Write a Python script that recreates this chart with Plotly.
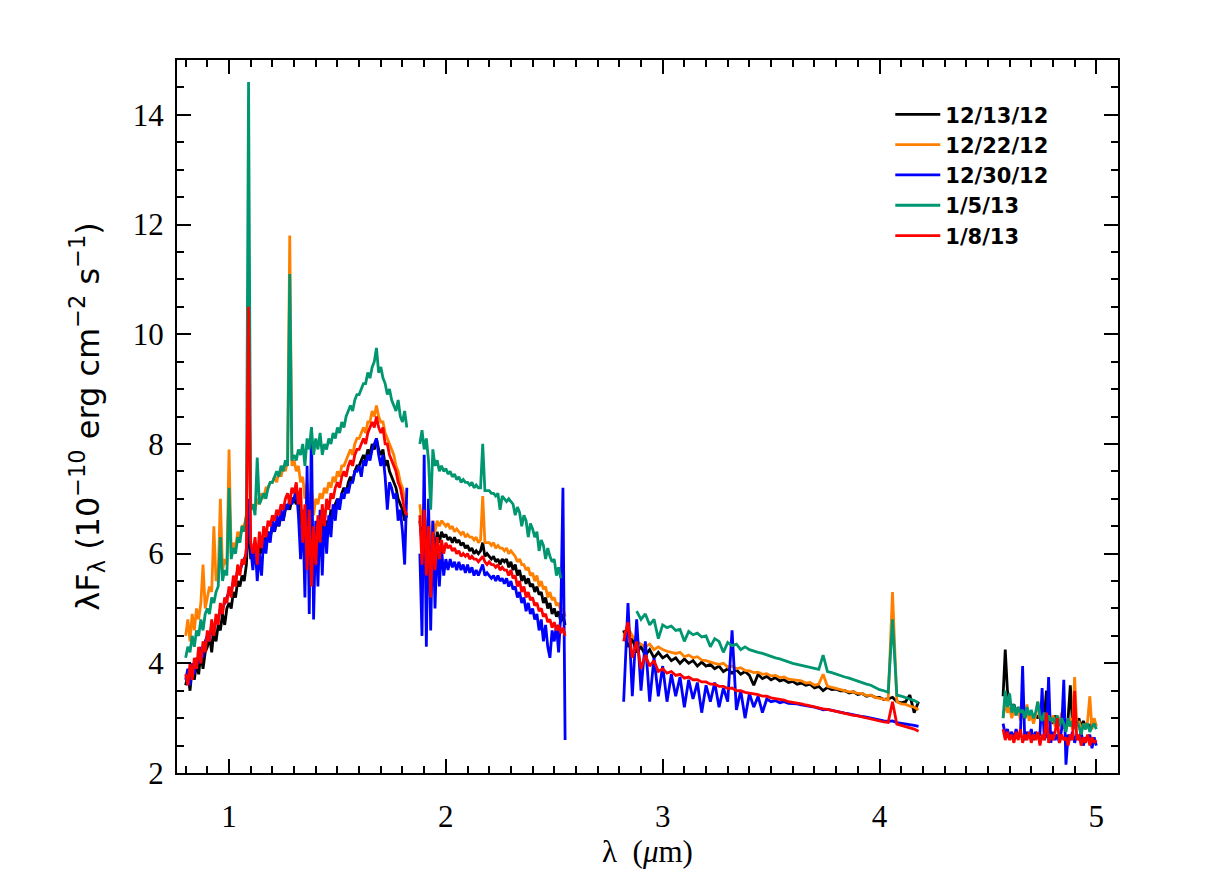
import plotly.graph_objects as go

# ---------------- wavelength grids (micron) for the four spectral segments ----------------
lam1 = [0.80, 0.81, 0.82, 0.83, 0.84, 0.85, 0.86, 0.87, 0.88, 0.89,
        0.90, 0.91, 0.92, 0.93, 0.94, 0.95, 0.96, 0.97, 0.98, 0.99,
        1.00, 1.01, 1.02, 1.03, 1.04, 1.05, 1.06, 1.07, 1.08, 1.09,
        1.10, 1.11, 1.12, 1.13, 1.14, 1.15, 1.16, 1.17, 1.18, 1.19,
        1.20, 1.21, 1.22, 1.23, 1.24, 1.25, 1.26, 1.27, 1.28, 1.29,
        1.30, 1.31, 1.32, 1.33, 1.34, 1.35, 1.36, 1.37, 1.38, 1.39,
        1.40, 1.41, 1.42, 1.43, 1.44, 1.45, 1.46, 1.47, 1.48, 1.49,
        1.50, 1.51, 1.52, 1.53, 1.54, 1.55, 1.56, 1.57, 1.58, 1.59,
        1.60, 1.61, 1.62, 1.63, 1.64, 1.65, 1.66, 1.67, 1.68, 1.69,
        1.70, 1.71, 1.72, 1.73, 1.74, 1.75, 1.76, 1.77, 1.78, 1.79,
        1.80, 1.81, 1.82]
lam2 = [1.88, 1.89,
        1.90, 1.91, 1.92, 1.93, 1.94, 1.95, 1.96, 1.97, 1.98, 1.99,
        2.00, 2.01, 2.02, 2.03, 2.04, 2.05, 2.06, 2.07, 2.08, 2.09,
        2.10, 2.11, 2.12, 2.13, 2.14, 2.15, 2.16, 2.17, 2.18, 2.19,
        2.20, 2.21, 2.22, 2.23, 2.24, 2.25, 2.26, 2.27, 2.28, 2.29,
        2.30, 2.31, 2.32, 2.33, 2.34, 2.35, 2.36, 2.37, 2.38, 2.39,
        2.40, 2.41, 2.42, 2.43, 2.44, 2.45, 2.46, 2.47, 2.48, 2.49,
        2.50, 2.51, 2.52, 2.53, 2.54, 2.55]
lam3 = [2.82, 2.84, 2.86, 2.88, 2.90, 2.92, 2.94, 2.96, 2.98,
        3.00, 3.02, 3.04, 3.06, 3.08, 3.10, 3.12, 3.14, 3.16, 3.18,
        3.20, 3.22, 3.24, 3.26, 3.28, 3.30, 3.32, 3.34, 3.36, 3.38,
        3.40, 3.42, 3.44, 3.46, 3.48, 3.50, 3.52, 3.54, 3.56, 3.58,
        3.60, 3.62, 3.64, 3.66, 3.68, 3.70, 3.72, 3.74, 3.76, 3.78,
        3.80, 3.82, 3.84, 3.86, 3.88, 3.90, 3.92, 3.94, 3.96, 3.98,
        4.00, 4.02, 4.04, 4.06, 4.08, 4.10, 4.12, 4.14, 4.16, 4.18]
lam4 = [4.57, 4.58, 4.59,
        4.60, 4.61, 4.62, 4.63, 4.64, 4.65, 4.66, 4.67, 4.68, 4.69,
        4.70, 4.71, 4.72, 4.73, 4.74, 4.75, 4.76, 4.77, 4.78, 4.79,
        4.80, 4.81, 4.82, 4.83, 4.84, 4.85, 4.86, 4.87, 4.88, 4.89,
        4.90, 4.91, 4.92, 4.93, 4.94, 4.95, 4.96, 4.97, 4.98, 4.99,
        5.00]

# ---------------- 12/13/12 (black) ----------------
f1213_s1 = [3.6, 3.8, 3.5, 3.9, 3.7, 4.0, 3.8, 4.2, 3.9, 4.2,
            4.3, 4.5, 4.2, 4.6, 4.4, 4.7, 4.6, 4.9, 4.7, 5.0,
            5.1, 5.0, 5.3, 5.2, 5.5, 5.4, 5.6, 5.5, 5.8, 6.6,
            5.9, 6.1, 5.9, 5.8, 6.2, 6.0, 6.3, 6.2, 6.4, 6.3,
            6.5, 6.4, 6.6, 6.5, 6.7, 6.6, 6.8, 6.9, 6.8, 7.0,
            7.0, 6.9, 7.1, 6.7, 6.3, 6.6, 5.9, 6.4, 5.6, 6.2,
            5.9, 6.4, 6.1, 6.6, 6.3, 6.6, 6.5, 6.8, 6.7, 6.9,
            7.0, 6.9, 7.1, 7.2, 7.1, 7.3, 7.4, 7.3, 7.5, 7.6,
            7.6, 7.7, 7.8, 7.7, 7.9, 7.8, 8.0, 7.9, 8.1, 7.9,
            7.8, 7.9, 7.6, 7.7, 7.5, 7.4, 7.3, 7.2, 7.0, 6.9,
            6.8, 6.6, 6.7]
f1213_s2 = [6.6, 6.2,
            6.7, 5.9, 6.5, 5.6, 6.4, 6.0, 6.4, 6.2, 6.4, 6.3,
            6.35, 6.25, 6.3, 6.2, 6.3, 6.2, 6.25, 6.15, 6.2, 6.1,
            6.15, 6.05, 6.1, 6.0, 6.05, 6.0, 6.05, 6.2, 5.95, 6.0,
            5.95, 5.9, 5.95, 5.85, 5.9, 5.8, 5.9, 5.85, 5.9, 5.75,
            5.85, 5.7, 5.8, 5.6, 5.7, 5.5, 5.6, 5.45, 5.55, 5.4,
            5.45, 5.3, 5.4, 5.25, 5.3, 5.1, 5.2, 5.0, 5.1, 4.9,
            5.0, 4.85, 4.95, 4.75, 4.9, 4.7]
f1213_s3 = [4.6, 4.3, 4.45, 4.2, 4.3, 4.15, 4.25, 4.1, 4.2,
            4.1, 4.15, 4.05, 4.1, 4.0, 4.08, 4.0, 4.05, 3.95, 4.02,
            3.95, 3.98, 3.9, 3.95, 3.85, 3.9, 3.82, 3.88, 3.8, 3.85,
            3.78, 3.6, 3.8, 3.72, 3.76, 3.7, 3.74, 3.68, 3.7, 3.65,
            3.67, 3.62, 3.64, 3.6, 3.62, 3.55, 3.58, 3.5, 3.56, 3.52,
            3.53, 3.5, 3.5, 3.46, 3.48, 3.43, 3.45, 3.4, 3.42, 3.38,
            3.38, 3.34, 3.35, 3.38, 3.3, 3.28, 3.3, 3.42, 3.1, 3.3]
f1213_s4 = [3.4, 4.25, 3.5,
            3.3, 3.2, 3.25, 3.1, 3.2, 3.05, 3.15, 3.0, 3.1, 3.05,
            3.1, 2.95, 3.05, 3.0, 3.1, 2.9, 3.0, 3.5, 2.95, 3.0,
            2.9, 3.05, 2.85, 3.0, 2.9, 2.95, 2.8, 3.0, 3.6, 2.9,
            2.95, 2.85, 3.0, 2.8, 2.95, 2.85, 2.9, 2.8, 2.95, 2.85,
            2.9]

# ---------------- 12/22/12 (orange) ----------------
f1222_s1 = [4.5, 4.8, 4.4, 4.9, 4.6, 5.0, 4.8, 5.1, 5.8, 5.0,
            5.2, 5.4, 5.3, 6.5, 5.5, 5.6, 7.0, 5.7, 5.9, 5.8,
            7.9, 6.0, 6.2, 6.1, 6.4, 6.3, 6.5, 6.5, 6.7, 9.8,
            6.8, 6.9, 6.8, 7.0, 6.9, 7.1, 7.0, 7.2, 7.2, 7.3,
            7.3, 7.4, 7.3, 7.5, 7.4, 7.6, 7.5, 7.7, 11.8, 7.6,
            7.7, 7.5, 7.6, 7.3, 7.4, 7.0, 7.3, 6.8, 7.2, 6.7,
            7.0, 6.9, 7.1, 7.0, 7.2, 7.1, 7.3, 7.2, 7.4, 7.3,
            7.5, 7.4, 7.6, 7.6, 7.7, 7.8, 7.9, 7.8, 8.0, 8.1,
            8.1, 8.2, 8.3, 8.2, 8.4, 8.4, 8.6, 8.5, 8.7, 8.5,
            8.4, 8.4, 8.2, 8.1, 8.0, 7.9, 7.8, 7.6, 7.5, 7.3,
            7.2, 7.0, 6.9]
f1222_s2 = [6.9, 6.5,
            6.8, 6.3, 6.7, 5.9, 6.6, 6.4, 6.6, 6.5, 6.6, 6.55,
            6.5, 6.55, 6.45, 6.5, 6.4, 6.45, 6.4, 6.35, 6.4, 6.3,
            6.35, 6.3, 6.3, 6.25, 6.3, 6.2, 6.25, 7.05, 6.2, 6.2,
            6.2, 6.15, 6.2, 6.1, 6.15, 6.1, 6.1, 6.05, 6.1, 6.0,
            6.05, 6.0, 5.95, 5.85, 5.9, 5.8, 5.8, 5.7, 5.75, 5.6,
            5.65, 5.5, 5.6, 5.4, 5.5, 5.35, 5.4, 5.2, 5.3, 5.15,
            5.2, 5.05, 5.1, 4.95, 5.0, 4.85]
f1222_s3 = [4.5, 4.65, 4.5, 4.4, 4.35, 4.3, 4.35, 4.25, 4.3,
            4.25, 4.22, 4.2, 4.18, 4.2, 4.12, 4.15, 4.1, 4.12, 4.06,
            4.05, 4.02, 4.0, 3.98, 4.0, 3.93, 3.95, 3.9, 3.92, 3.87,
            3.86, 3.83, 3.84, 3.8, 3.81, 3.77, 3.78, 3.74, 3.75, 3.71,
            3.7, 3.68, 3.68, 3.64, 3.65, 3.6, 3.62, 3.8, 3.58, 3.56,
            3.54, 3.52, 3.51, 3.48, 3.48, 3.45, 3.45, 3.41, 3.42, 3.38,
            3.36, 3.34, 3.33, 5.3, 3.3, 3.26, 3.25, 3.22, 3.2, 3.15]
f1222_s4 = [3.0, 3.3, 3.1,
            3.2, 3.0, 3.15, 3.05, 3.2, 2.95, 3.1, 3.0, 3.25, 2.95,
            3.1, 2.9, 3.05, 3.3, 3.0, 2.9, 3.1, 2.85, 3.0, 2.9,
            3.05, 2.85, 3.0, 2.9, 3.1, 2.8, 2.95, 2.85, 3.0, 2.8,
            3.75, 2.85, 2.95, 2.75, 2.9, 2.8, 2.95, 3.4, 2.8, 3.0,
            2.85]

# ---------------- 12/30/12 (blue) ----------------
f1230_s1 = [3.7, 3.9, 3.6, 4.0, 3.8, 4.1, 4.0, 4.3, 4.1, 4.4,
            4.5, 4.4, 4.7, 4.6, 4.8, 4.8, 5.0, 5.0, 5.1, 5.2,
            5.3, 5.3, 5.5, 5.5, 5.7, 5.7, 5.8, 5.9, 6.0, 7.0,
            6.1, 5.7, 6.2, 5.5, 6.0, 5.6, 6.3, 6.0, 6.4, 6.2,
            6.6, 6.4, 6.7, 6.5, 6.8, 6.6, 6.9, 6.8, 7.0, 6.9,
            7.0, 7.2, 6.7, 5.9, 6.8, 5.2, 7.6, 4.9, 8.3, 4.8,
            6.6, 5.4, 6.8, 5.6, 6.7, 6.0, 6.7, 6.3, 6.9, 6.6,
            7.0, 6.8, 7.1, 7.0, 7.2, 7.1, 7.3, 7.3, 7.5, 7.5,
            7.6, 7.4, 7.7, 7.6, 7.8, 7.7, 7.9, 8.0, 8.1, 7.8,
            7.6, 7.8, 7.4, 6.8, 7.3, 7.2, 7.0, 7.1, 6.6, 6.8,
            6.4, 5.8, 7.2]
f1230_s2 = [6.0, 4.5,
            7.8, 4.3, 7.0, 4.6, 6.6, 5.0, 6.3, 5.4, 6.1, 5.6,
            5.9, 5.7, 5.9, 5.75, 5.85, 5.7, 5.85, 5.7, 5.8, 5.65,
            5.8, 5.65, 5.75, 5.6, 5.7, 5.6, 5.7, 5.8, 5.6, 5.65,
            5.6, 5.55, 5.6, 5.5, 5.6, 5.5, 5.55, 5.45, 5.55, 5.4,
            5.5, 5.35, 5.4, 5.2, 5.3, 5.1, 5.2, 4.95, 5.1, 4.9,
            5.0, 4.8, 4.9, 4.6, 4.8, 4.4, 4.7, 4.3, 4.1, 4.6,
            4.4, 4.7, 4.2, 4.9, 7.2, 2.6]
f1230_s3 = [3.3, 5.1, 3.4, 4.8, 3.5, 4.4, 3.3, 4.1, 3.4,
            3.95, 3.3, 3.8, 3.4, 3.75, 3.2, 3.7, 3.35, 3.65, 3.1,
            3.6, 3.3, 3.65, 3.2, 3.55, 3.3, 4.6, 3.15, 3.5, 3.0,
            3.45, 3.2, 3.4, 3.1, 3.35, 3.3, 3.32, 3.28, 3.3, 3.27,
            3.27, 3.26, 3.24, 3.23, 3.21, 3.2, 3.18, 3.15, 3.16, 3.14,
            3.12, 3.11, 3.09, 3.08, 3.06, 3.05, 3.03, 3.02, 3.0, 2.99,
            2.97, 2.95, 2.94, 2.95, 2.92, 2.91, 2.9, 2.89, 2.87, 2.85]
f1230_s4 = [2.9, 2.7, 2.8,
            2.65, 2.75, 2.6, 2.8, 2.65, 2.7, 3.95, 2.6, 2.75, 2.65,
            2.8, 2.6, 2.75, 2.65, 2.7, 3.55, 2.6, 2.7, 3.75, 2.55,
            2.75, 2.6, 2.7, 2.55, 2.8, 3.7, 2.15, 2.7, 2.6, 2.75,
            2.55, 2.7, 2.6, 2.75, 2.5, 2.65, 2.6, 2.7, 2.45, 2.65,
            2.5]

# ---------------- 1/5/13 (green) ----------------
f0105_s1 = [4.1, 4.3, 4.2, 4.5, 4.3, 4.6, 4.5, 4.8, 4.6, 4.9,
            5.0, 4.9, 5.2, 5.1, 5.3, 5.4, 6.3, 5.5, 5.7, 5.6,
            7.2, 5.9, 6.1, 6.0, 6.3, 6.2, 6.5, 6.4, 6.7, 14.6,
            6.8, 6.9, 6.7, 7.75, 6.9, 7.0, 7.1, 7.0, 7.2, 7.3,
            7.3, 7.4, 7.5, 7.4, 7.6, 7.5, 7.7, 7.6, 11.1, 7.7,
            7.8, 7.7, 7.9, 7.8, 8.0, 7.6, 8.1, 7.9, 8.3, 7.8,
            8.1, 7.9, 8.2, 7.8, 8.0, 7.9, 8.1, 8.0, 8.2, 8.1,
            8.3, 8.2, 8.4, 8.3, 8.5, 8.6, 8.7, 8.6, 8.8, 8.9,
            8.9, 9.0, 9.1, 9.1, 9.3, 9.2, 9.4, 9.5, 9.75, 9.3,
            9.4, 9.2, 9.1, 8.9, 9.0, 8.8, 8.7, 8.6, 8.8, 8.5,
            8.4, 8.6, 8.3]
f0105_s2 = [8.0, 8.25,
            7.9, 8.1, 7.7, 6.8, 7.9, 7.6, 7.7, 7.5, 7.6, 7.5,
            7.55, 7.45, 7.5, 7.4, 7.45, 7.35, 7.4, 7.3, 7.35, 7.3,
            7.3, 7.25, 7.3, 7.2, 7.25, 7.2, 7.2, 8.0, 7.15, 7.15,
            7.15, 7.1, 7.1, 7.05, 7.1, 6.8, 7.05, 7.0, 6.95, 7.0,
            6.95, 6.9, 6.7, 6.85, 6.75, 6.5, 6.7, 6.6, 6.3, 6.55,
            6.45, 6.3, 6.4, 6.05, 6.25, 6.15, 5.9, 6.1, 5.95, 5.85,
            5.9, 5.6, 5.75, 5.55, None, None]
f0105_s3 = [None, None, None, 4.95, 4.8, 4.9, 4.7, 4.8, 4.45,
            4.7, 4.65, 4.68, 4.6, 4.62, 4.4, 4.58, 4.52, 4.55, 4.48,
            4.5, 4.3, 4.45, 4.4, 4.2, 4.38, 4.32, 4.35, 4.25, 4.3,
            4.25, 4.22, 4.2, 4.18, 4.15, 4.12, 4.1, 4.08, 4.05, 4.02,
            4.0, 3.98, 3.96, 3.94, 3.92, 3.9, 3.89, 4.15, 3.85, 3.83,
            3.8, 3.78, 3.75, 3.73, 3.7, 3.68, 3.65, 3.62, 3.6, 3.56,
            3.52, 3.5, 3.47, 4.8, 3.42, 3.4, 3.38, 3.35, 3.32, 3.28]
f0105_s4 = [3.0, 3.5, 3.2,
            3.45, 3.1, 3.25, 3.05, 3.2, 3.1, 3.15, 3.0, 3.2, 3.05,
            3.15, 3.0, 3.1, 3.3, 3.05, 2.95, 3.1, 2.9, 3.05, 2.95,
            3.0, 2.9, 3.05, 2.85, 3.0, 2.9, 2.75, 3.0, 2.85, 2.95,
            2.8, 2.95, 2.85, 2.7, 2.9, 2.8, 2.9, 2.75, 2.85, 2.9,
            2.8]

# ---------------- 1/8/13 (red) ----------------
f0108_s1 = [3.8, 3.6, 4.0, 3.7, 4.1, 3.9, 4.3, 4.0, 4.4, 4.2,
            4.6, 4.4, 4.8, 4.5, 4.9, 4.7, 5.1, 4.9, 5.2, 5.1,
            5.4, 5.2, 5.6, 5.4, 5.8, 5.6, 5.9, 5.8, 6.1, 10.5,
            6.2, 6.0, 6.3, 5.8, 6.4, 6.1, 6.5, 6.3, 6.6, 6.5,
            6.7, 6.6, 6.8, 6.7, 6.9, 6.8, 7.0, 7.1, 6.9, 7.2,
            7.1, 7.3, 6.9, 7.2, 6.2, 6.9, 5.7, 6.8, 5.4, 6.5,
            5.8, 6.7, 6.2, 6.9, 6.5, 7.0, 6.8, 7.1, 7.0, 7.2,
            7.3, 7.2, 7.4, 7.5, 7.4, 7.6, 7.7, 7.6, 7.8, 7.9,
            7.9, 8.0, 8.1, 8.0, 8.2, 8.3, 8.4, 8.3, 8.5, 8.3,
            8.2, 8.3, 8.0, 8.0, 7.8, 7.7, 7.6, 7.5, 7.3, 7.2,
            7.0, 6.8, 6.7]
f0108_s2 = [6.7, 5.8,
            6.8, 5.6, 6.5, 5.2, 6.4, 5.7, 6.3, 5.9, 6.25, 6.0,
            6.2, 6.1, 6.15, 6.05, 6.1, 6.0, 6.05, 5.95, 6.0, 5.95,
            6.0, 5.9, 5.95, 5.9, 5.9, 5.85, 5.9, 5.95, 5.85, 5.8,
            5.85, 5.8, 5.8, 5.75, 5.8, 5.7, 5.75, 5.7, 5.7, 5.6,
            5.7, 5.55, 5.6, 5.4, 5.5, 5.3, 5.4, 5.2, 5.3, 5.15,
            5.2, 5.05, 5.1, 4.95, 5.0, 4.85, 4.9, 4.75, 4.8, 4.65,
            4.75, 4.6, 4.7, 4.55, 4.65, 4.5]
f0108_s3 = [4.4, 4.75, 4.1, 4.4, 3.9, 4.15, 3.95, 4.05, 3.85,
            3.9, 3.82, 3.85, 3.78, 3.8, 3.73, 3.75, 3.7, 3.7, 3.66,
            3.66, 3.62, 3.62, 3.58, 3.58, 3.54, 3.55, 3.5, 3.5, 3.47,
            3.46, 3.44, 3.43, 3.4, 3.4, 3.37, 3.36, 3.34, 3.33, 3.3,
            3.29, 3.27, 3.26, 3.24, 3.22, 3.2, 3.19, 3.17, 3.16, 3.14,
            3.12, 3.1, 3.09, 3.07, 3.05, 3.04, 3.02, 3.0, 2.99, 2.97,
            2.95, 2.93, 2.92, 3.3, 2.89, 2.87, 2.85, 2.83, 2.8, 2.76]
f0108_s4 = [2.8, 2.6, 2.75,
            2.6, 2.7, 2.55, 2.75, 2.6, 2.8, 2.55, 2.7, 2.6, 2.75,
            2.55, 2.7, 2.6, 2.75, 2.5, 2.7, 2.6, 3.1, 2.55, 2.7,
            2.6, 2.75, 3.0, 2.55, 2.7, 2.6, 2.65, 2.5, 2.7, 2.6,
            3.5, 2.6, 2.7, 2.5, 2.65, 2.55, 2.7, 2.5, 2.65, 2.55,
            2.6]

dates = ["12/13/12", "12/22/12", "12/30/12", "1/5/13", "1/8/13"]
colors = ["#000000", "#FF8000", "#0000FF", "#009670", "#FF0000"]
series = [
    (f1213_s1, f1213_s2, f1213_s3, f1213_s4),
    (f1222_s1, f1222_s2, f1222_s3, f1222_s4),
    (f1230_s1, f1230_s2, f1230_s3, f1230_s4),
    (f0105_s1, f0105_s2, f0105_s3, f0105_s4),
    (f0108_s1, f0108_s2, f0108_s3, f0108_s4),
]
grids = [lam1, lam2, lam3, lam4]

fig = go.Figure()
for name, col, segs in zip(dates, colors, series):
    xs, ys = [], []
    for k, (g, s) in enumerate(zip(grids, segs)):
        assert len(g) == len(s), (name, k, len(g), len(s))
        if k:
            xs.append(None)
            ys.append(None)
        xs += g
        ys += s
    fig.add_trace(go.Scatter(x=xs, y=ys, mode="lines", name=name,
                             line=dict(color=col, width=2.8),
                             connectgaps=False))

axis_common = dict(
    showline=True, linecolor="black", linewidth=2, mirror="allticks",
    ticks="inside", ticklen=14, tickwidth=2, tickcolor="black",
    showgrid=False, zeroline=False,
)
fig.update_xaxes(
    range=[0.76, 5.1], tick0=0, dtick=1,
    minor=dict(dtick=0.1, ticks="inside", ticklen=7, tickwidth=2, tickcolor="black"),
    tickfont=dict(family="Liberation Serif", size=31, color="black"),
    ticklabelstandoff=15,
    title=dict(text="λ  (<i>μ</i>m)", font=dict(family="Liberation Serif", size=31, color="black"),
               standoff=6),
    **axis_common,
)
fig.update_yaxes(
    range=[2.0, 15.0], tick0=0, dtick=2,
    minor=dict(dtick=0.5, ticks="inside", ticklen=7, tickwidth=2, tickcolor="black"),
    tickfont=dict(family="Liberation Serif", size=31, color="black"),
    ticklabelstandoff=5,
    title=dict(text="λF<sub>λ</sub> (10<sup>−10</sup> erg cm<sup>−2</sup> s<sup>−1</sup>)",
               font=dict(family="DejaVu Sans", size=32, color="black"), standoff=24),
    **axis_common,
)
fig.update_layout(
    width=1226, height=895,
    margin=dict(l=177, r=108, t=60, b=122),
    paper_bgcolor="white", plot_bgcolor="white",
    showlegend=True,
    legend=dict(x=0.758, y=0.952, xanchor="left", yanchor="top",
                bgcolor="rgba(0,0,0,0)", borderwidth=0,
                font=dict(family="DejaVu Sans", size=21, color="black", weight="bold"),
                itemwidth=45, tracegroupgap=0),
)
fig.write_html("out.html")
